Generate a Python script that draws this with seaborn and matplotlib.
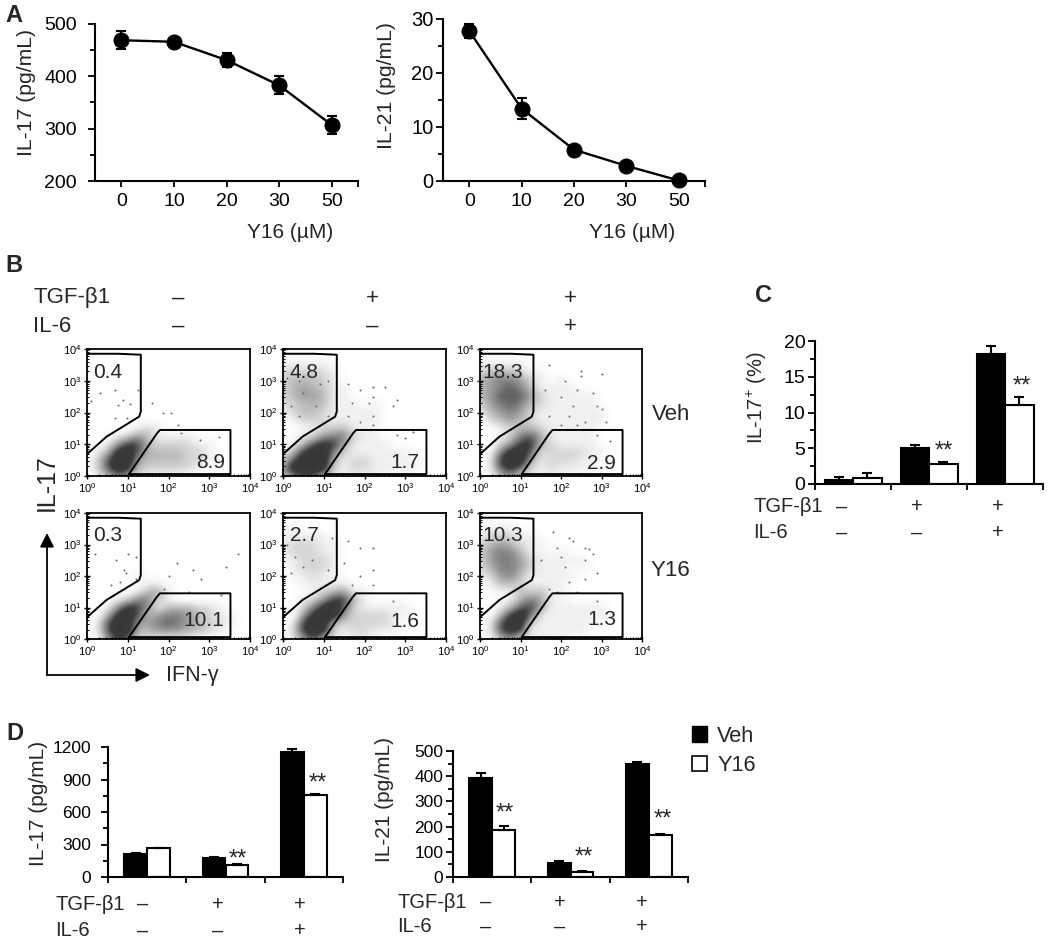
import pandas as pd
import matplotlib
matplotlib.use("Agg")
import matplotlib.pyplot as plt
from matplotlib.colors import LinearSegmentedColormap
from matplotlib.patches import Patch
import numpy as np
import seaborn as sns

# Panel A
doses = ["0", "10", "20", "30", "50"]
il17_dose = [469, 466, 431, 383, 307]
il17_dose_err = [17, 8, 14, 17, 17]
il21_dose = [27.8, 13.4, 5.8, 2.8, 0.1]
il21_dose_err = [1.3, 1.9, 0.5, 0.5, 0.0]

# Panels C and D
grupos = ["-/-", "+/-", "+/+"]
tratamentos = ["Veh", "Y16"]
c_veh = [0.5, 5.0, 18.2]
c_y16 = [0.8, 2.8, 11.0]
c_veh_err = [0.5, 0.4, 1.1]
c_y16_err = [0.7, 0.3, 1.2]
d17_veh = [210, 180, 1150]
d17_y16 = [265, 110, 760]
d17_veh_err = [15, 5, 30]
d17_y16_err = [5, 10, 10]
d21_veh = [392, 57, 450]
d21_y16 = [185, 20, 168]
d21_veh_err = [20, 5, 7]
d21_y16_err = [18, 5, 3]

# Panel B: gates in decades (log10 IFN-g, log10 IL-17)
gate_sup_x = [0.0, 0.76, 1.32, 1.32, 1.28, 0.48, 0.0]
gate_sup_y = [3.85, 3.85, 3.82, 2.03, 1.87, 1.24, 0.69]
gate_inf_x = [1.03, 1.71, 1.79, 3.52, 3.52, 1.03]
gate_inf_y = [0.06, 1.33, 1.45, 1.45, 0.06, 0.06]

# Panel B: density read by eye, one digit each 0.25 decade, rows from y=3.75 down to y=0
dens_veh_1 = [
    "00000000000000000", "00000000000000000", "00000000000000000", "00000000000000000",
    "00000000000000000", "00000000000000000", "00000000000000000", "00000000000000000",
    "00000000000000000", "00000121000000000", "00012431111000000", "00147732222110000",
    "01389633332210000", "02699433332210000", "02698322222100000", "01354111110000000",
]
dens_veh_2 = [
    "00000000000000000", "11111000000000000", "22222100000000000", "23332100000000000",
    "23433110000000000", "23443110000000000", "22333111010000000", "12332111110000000",
    "01222111110000000", "00112231110000000", "00124552110000000", "01368741111000000",
    "13799521111110000", "26999312211111000", "49999212211111000", "25663111111000000",
]
dens_veh_3 = [
    "00000000000000000", "11111000000000000", "23332110000000000", "34554210100000000",
    "34565311110000000", "34666421111100000", "24565321111100000", "13454211111110000",
    "02343211111110000", "00123321111100000", "00125641111100000", "00247832111100000",
    "00589622222110000", "01799412221100000", "01686212111100000", "00342111110000000",
]
dens_y16_1 = [
    "00000000000000000", "00000000000000000", "00000000000000000", "00000000000000000",
    "00000000000000000", "00000000000000000", "00000000000000000", "00000100000000000",
    "00000011000000000", "00000134100000000", "00012552100000000", "00148741333221000",
    "00389634554321100", "01699445654322100", "01699334443321000", "00475221111000000",
]
dens_y16_2 = [
    "00000000000000000", "01000000000000000", "11111000000000000", "12221100000000000",
    "12221100000000000", "11222100000000000", "01222100000000000", "01121100000000000",
    "00111110000000000", "00012341100000000", "00124773100000000", "00258962111110000",
    "00489942222110000", "01799322222100000", "02798212211100000", "01463111110000000",
]
dens_y16_3 = [
    "00000000000000000", "01110000000000000", "12221100000000000", "23432110000000000",
    "24553110100000000", "24554211111000000", "23554211101000000", "12453111110000000",
    "01332111100000000", "00113231100000000", "00013541100000000", "00136741111110000",
    "00379611111110000", "01699211111100000", "01687111111000000", "00342111100000000",
]

# Panel B: single events seen in the sparse parts
pts_veh_1_x = [.31, .68, .77, 1.26, 1.05, .68, .89, .11, 1.59, 1.87, 2.07, .97, 2.24, 3.23, 2.78, 2.3]
pts_veh_1_y = [2.61, 1.82, 2.24, 2.72, 2.28, 2.72, 2.39, 2.35, 2.29, 1.98, 1.98, 1.82, 1.61, 1.24, 1.14, 1.35]
pts_veh_2_x = [1.6, 1.9, 2.2, 2.5, 2.2, 1.7, 2.1, 2.2, 1.6, 1.9, 2.7, 2.8, 2.2, 3.2, 2.8, 3.0, .1, .4, .9, 1.1, .5, .8, .2, .4, 1.1]
pts_veh_2_y = [2.9, 2.7, 2.8, 2.8, 2.5, 2.3, 2.3, 1.9, 1.9, 1.7, 2.2, 2.4, 1.6, 1.4, 1.3, 1.2, 3.1, 3.0, 2.9, 3.0, 2.6, 2.2, 2.2, 1.9, 1.9]
pts_veh_3_x = [1.7, 2.1, 2.5, 2.5, 3.0, 2.4, 2.8, 1.6, 2.0, 2.3, 2.9, 3.0, 1.7, 2.2, 2.6, 3.1, 2.4, 2.9, 2.0, 3.2]
pts_veh_3_y = [3.5, 3.0, 3.3, 3.15, 3.2, 2.7, 2.6, 2.7, 2.5, 2.2, 2.2, 2.1, 1.9, 1.9, 1.7, 1.7, 1.6, 1.3, 1.6, 1.1]
pts_y16_1_x = [.2, .7, 1.0, 1.2, .8, .95, .9, .6, 1.2, 2.2, 3.4, 3.7, 2.8, 2.6, 3.3, 2.5, 1.9, 2.0]
pts_y16_1_y = [2.7, 2.5, 2.7, 2.6, 1.8, 2.1, 2.2, 1.7, 1.9, 2.4, 2.3, 2.7, 1.9, 2.2, 1.4, 1.5, 1.6, 2.0]
pts_y16_2_x = [.1, 1.2, 1.6, 1.9, 2.2, 1.5, 2.2, 1.9, 2.2, 1.7, 2.7, .3, .5, 1.1, .2, .7]
pts_y16_2_y = [3.0, 3.2, 3.1, 2.9, 2.9, 2.4, 2.2, 2.0, 1.7, 1.7, 1.2, 2.6, 2.3, 2.2, 2.1, 2.5]
pts_y16_3_x = [1.8, 2.2, 2.3, 2.6, 2.7, 1.9, 1.5, 2.0, 2.1, 2.6, 2.8, 2.6, 2.9, 2.2, 1.7, 2.4, 2.9, 1.9]
pts_y16_3_y = [3.4, 3.2, 3.1, 2.9, 2.85, 2.9, 2.5, 2.6, 2.3, 2.5, 2.7, 1.9, 2.1, 1.8, 1.6, 1.5, 1.2, 1.5]

sns.set_theme(style="white")
plt.rcParams["font.family"] = ["Liberation Sans", "DejaVu Sans"]
plt.rcParams["mathtext.fontset"] = "custom"
plt.rcParams["mathtext.rm"] = "Liberation Sans"
plt.rcParams["mathtext.default"] = "regular"

W, H = 1050, 943
FS = 14
fig = plt.figure(figsize=(W / 100, H / 100), dpi=100, facecolor="white")

# overlay in image pixels for the labels
over = fig.add_axes([0, 0, 1, 1])
over.set_xlim(0, W)
over.set_ylim(H, 0)
over.axis("off")


def eixo(esq, topo, dir, base):
    return fig.add_axes([esq / W, 1 - base / H, (dir - esq) / W, (base - topo) / H])


def estilo(ax, tam_y, pad_y):
    sns.despine(ax=ax)
    ax.spines["left"].set_linewidth(1.5)
    ax.spines["bottom"].set_linewidth(1.5)
    ax.spines["left"].set_color("black")
    ax.spines["bottom"].set_color("black")
    ax.set_xlabel("")
    ax.set_ylabel("")
    ax.patch.set_alpha(0)
    ax.tick_params(axis="both", which="both", direction="out", left=True, bottom=True,
                   color="black", labelcolor="black", width=1.3)
    ax.tick_params(axis="y", which="major", length=5, labelsize=tam_y, pad=pad_y)
    ax.tick_params(axis="y", which="minor", length=3.5)
    ax.tick_params(axis="x", which="major", length=4, labelsize=FS, pad=5)


def painel_linha(pos, valores, erros, ymin, ymax, passo, tam_y, pad_y):
    ax = eixo(*pos)
    df = pd.DataFrame({"dose": list(range(len(doses))), "valor": valores})
    sns.lineplot(data=df, x="dose", y="valor", color="black", linewidth=1.7, marker="o",
                 markersize=10.8, markeredgecolor="black", ax=ax, clip_on=False, zorder=3)
    ax.errorbar(df["dose"], df["valor"], yerr=erros, fmt="none", ecolor="black",
                elinewidth=1.5, capsize=3.6, capthick=1.5, clip_on=False)
    ax.set_xlim(-0.5, 4.5)
    ax.set_ylim(ymin, ymax)
    ax.set_xticks(list(range(len(doses))) + [4.5])
    ax.set_xticklabels(doses + [""])
    ax.set_yticks(np.arange(ymin, ymax + passo, passo))
    ax.set_yticks(np.arange(ymin, ymax, passo / 2), minor=True)
    estilo(ax, tam_y, pad_y)
    return ax


def painel_barra(pos, veh, y16, veh_err, y16_err, ymax, passo, largura, pontos, tam_y, pad_y):
    ax = eixo(*pos)
    df = pd.DataFrame({
        "grupo": grupos * 2,
        "trat": ["Veh"] * 3 + ["Y16"] * 3,
        "valor": veh + y16,
    })
    sns.barplot(data=df, x="grupo", y="valor", hue="trat", order=grupos, hue_order=tratamentos,
                palette={"Veh": "black", "Y16": "white"}, edgecolor="black", linewidth=1.5,
                width=largura, gap=0, errorbar=None, legend=False, ax=ax)
    for barras, erros in zip(ax.containers, [veh_err, y16_err]):
        for barra, erro in zip(barras, erros):
            xc = barra.get_x() + barra.get_width() / 2
            ax.errorbar(xc, barra.get_height(), yerr=[[0], [erro]], fmt="none", ecolor="black",
                        elinewidth=1.5, capsize=3.8, capthick=1.5, zorder=1)
    for xp, yp in pontos:
        over.text(xp, yp, "**", fontsize=FS + 3, ha="center", va="center")
    ax.set_xlim(-0.5, 2.5)
    ax.set_ylim(0, ymax)
    ax.set_xticks([-0.5, 0.5, 1.5, 2.5])
    ax.set_xticklabels([])
    ax.set_yticks(np.arange(0, ymax + passo, passo))
    ax.set_yticks(np.arange(0, ymax, passo / 2), minor=True)
    estilo(ax, tam_y, pad_y)
    return ax


def linhas_sinal(x_nome, x_sinais, y1, y2, tam=14.5):
    over.text(x_nome, y1, "TGF-β1", fontsize=tam, ha="left", va="center")
    over.text(x_nome, y2, "IL-6", fontsize=tam, ha="left", va="center")
    for x, s1, s2 in zip(x_sinais, ["–", "+", "+"], ["–", "–", "+"]):
        over.text(x, y1, s1, fontsize=tam, ha="center", va="center")
        over.text(x, y2, s2, fontsize=tam, ha="center", va="center")


cmap_fluxo = LinearSegmentedColormap.from_list(
    "fluxo", [(0, "#ffffff"), (1 / 9, "#f0f0f0"), (3 / 9, "#bcbcbc"), (5 / 9, "#808080"),
              (7 / 9, "#3c3c3c"), (1, "#363636")])
minor_dec = [k + np.log10(m) for k in range(4) for m in range(2, 10)]


def painel_fluxo(pos, densidade, px, py, sup, inf):
    ax = eixo(*pos)
    grade = np.array([[int(c) for c in linha] for linha in densidade], dtype=float)
    ax.imshow(grade, cmap=cmap_fluxo, vmin=0, vmax=9, aspect="auto", interpolation="bicubic",
              extent=(-0.125, 4.125, -0.125, 3.875), origin="upper", zorder=0)
    sns.scatterplot(x=px, y=py, s=2, color="#666666", linewidth=0, ax=ax, zorder=1)
    ax.plot(gate_sup_x, gate_sup_y, color="black", lw=1.4, zorder=2)
    ax.plot(gate_inf_x, gate_inf_y, color="black", lw=1.4, zorder=2)
    ax.text(sup[1], sup[2], sup[0], fontsize=FS + 1, ha="center", va="center", zorder=3)
    ax.text(inf[1], inf[2], inf[0], fontsize=FS + 1, ha="center", va="center", zorder=3)
    ax.set_xlim(0, 4)
    ax.set_ylim(0, 4)
    ax.set_xticks(range(5))
    ax.set_yticks(range(5))
    ax.set_xticklabels([f"$10^{{{k}}}$" for k in range(5)], fontsize=8)
    ax.set_yticklabels([f"$10^{{{k}}}$" for k in range(5)], fontsize=8)
    ax.set_xticks(minor_dec, minor=True)
    ax.set_yticks(minor_dec, minor=True)
    ax.tick_params(axis="both", which="major", direction="inout", length=4, width=1, pad=2,
                   left=True, bottom=True, color="black", labelcolor="black")
    ax.tick_params(axis="both", which="minor", direction="in", length=1.5, width=0.7,
                   left=True, bottom=True, color="black")
    ax.grid(False)
    ax.set_xlabel("")
    ax.set_ylabel("")
    for lado in ax.spines.values():
        lado.set_linewidth(1.3)
        lado.set_color("black")
    return ax


# Panel A
painel_linha((95, 24, 358, 181), il17_dose, il17_dose_err, 200, 500, 100, 14, 8)
painel_linha((443, 19, 705, 181), il21_dose, il21_dose_err, 0, 30, 10, 14.5, 2)
over.text(26, 93, "IL-17 (pg/mL)", fontsize=15.2, rotation=90, ha="center", va="center")
over.text(386, 86, "IL-21 (pg/mL)", fontsize=15.2, rotation=90, ha="center", va="center")
over.text(290, 232, "Y16 (µM)", fontsize=15, ha="center", va="center")
over.text(632, 232, "Y16 (µM)", fontsize=15, ha="center", va="center")

# Panel B
colunas = [(87, 250), (283, 446), (480, 642)]
linhas = [(349, 476), (513, 639)]
painel_fluxo((colunas[0][0], linhas[0][0], colunas[0][1], linhas[0][1]), dens_veh_1,
             pts_veh_1_x, pts_veh_1_y, ("0.4", .5, 3.27), ("8.9", 3.04, .42))
painel_fluxo((colunas[1][0], linhas[0][0], colunas[1][1], linhas[0][1]), dens_veh_2,
             pts_veh_2_x, pts_veh_2_y, ("4.8", .52, 3.26), ("1.7", 3.0, .42))
painel_fluxo((colunas[2][0], linhas[0][0], colunas[2][1], linhas[0][1]), dens_veh_3,
             pts_veh_3_x, pts_veh_3_y, ("18.3", .56, 3.27), ("2.9", 3.0, .4))
painel_fluxo((colunas[0][0], linhas[1][0], colunas[0][1], linhas[1][1]), dens_y16_1,
             pts_y16_1_x, pts_y16_1_y, ("0.3", .5, 3.28), ("10.1", 2.87, .59))
painel_fluxo((colunas[1][0], linhas[1][0], colunas[1][1], linhas[1][1]), dens_y16_2,
             pts_y16_2_x, pts_y16_2_y, ("2.7", .52, 3.27), ("1.6", 3.0, .56))
painel_fluxo((colunas[2][0], linhas[1][0], colunas[2][1], linhas[1][1]), dens_y16_3,
             pts_y16_3_x, pts_y16_3_y, ("10.3", .56, 3.27), ("1.3", 3.02, .63))

linhas_sinal(33, [178, 372, 570], 298, 326, tam=16)
over.text(652, 415, "Veh", fontsize=FS + 2, ha="left", va="center")
over.text(651, 570, "Y16", fontsize=FS + 2, ha="left", va="center")
over.text(47, 483, "IL-17", fontsize=18, rotation=90, ha="center", va="center")
over.text(166, 676, "IFN-γ", fontsize=FS + 1.5, ha="left", va="center")
seta = dict(arrowstyle="-|>,head_width=0.35,head_length=0.7", color="black", lw=1.3, shrinkA=0, shrinkB=0)
over.annotate("", xy=(47, 533), xytext=(47, 675), arrowprops=seta)
over.annotate("", xy=(150, 675), xytext=(47, 675), arrowprops=seta)

# Panel C
painel_barra((815, 341, 1043, 484), c_veh, c_y16, c_veh_err, c_y16_err, 20, 5, 0.75,
             [(944, 452), (1022, 387)], 14, 2)
over.text(757, 398, "IL-17$^{+}$ (%)", fontsize=14.5, rotation=90, ha="center", va="center")
linhas_sinal(753, [842, 917, 998], 507, 533)

# Panel D
painel_barra((108, 747, 343, 877), d17_veh, d17_y16, d17_veh_err, d17_y16_err, 1200, 300, 0.58,
             [(238, 860), (318, 784)], 12.5, 7)
over.text(38, 803, "IL-17 (pg/mL)", fontsize=15, rotation=90, ha="center", va="center")
linhas_sinal(55, [143, 218, 300], 904, 931)
painel_barra((453, 751, 688, 877), d21_veh, d21_y16, d21_veh_err, d21_y16_err, 500, 100, 0.58,
             [(505, 814), (584, 858), (663, 820)], 12.5, 2)
over.text(385, 800, "IL-21 (pg/mL)", fontsize=15, rotation=90, ha="center", va="center")
linhas_sinal(397, [486, 560, 642], 902, 927)

fig.legend(handles=[Patch(facecolor="black", edgecolor="black", label="Veh"),
                    Patch(facecolor="white", edgecolor="black", linewidth=1.2, label="Y16")],
           loc="upper left", bbox_to_anchor=(685 / W, 1 - 719 / H), frameon=False, fontsize=15.7,
           handlelength=0.72, handleheight=0.72, labelspacing=0.4, handletextpad=0.45,
           borderpad=0.3, borderaxespad=0)

# panel letters
for letra, xp, yp in [("A", 5, 16), ("B", 5, 265), ("C", 755, 296), ("D", 6, 734)]:
    over.text(xp, yp, letra, fontsize=17, fontweight="bold", ha="left", va="center")

fig.savefig("out.png", dpi=100, facecolor="white")
